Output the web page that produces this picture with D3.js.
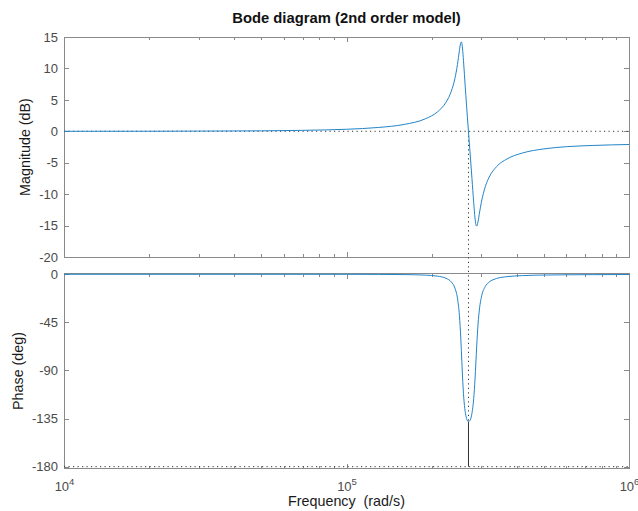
<!DOCTYPE html>
<html>
<head>
<meta charset="utf-8">
<script src="https://cdn.jsdelivr.net/npm/d3@7"></script>
<style>
  body { margin: 0; background: #fff; }
  svg { display: block; }
</style>
</head>
<body>
<svg id="chart" width="638" height="511"></svg>
<script>
// Frequency response samples (rad/s) of the 2nd order model
const freq = [1e4, 2e4, 3e4, 5e4, 7e4, 1e5, 1.3e5, 1.6e5, 1.9e5, 2.1e5, 2.25e5, 2.35e5, 2.42e5, 2.47e5,
  2.51e5, 2.54e5, 2.55e5, 2.56e5, 2.58e5, 2.6e5, 2.63e5, 2.66e5, 2.7e5, 2.74e5, 2.78e5, 2.82e5, 2.85e5,
  2.87e5, 2.89e5, 2.92e5, 2.96e5, 3.0e5, 3.1e5, 3.2e5, 3.4e5, 3.7e5, 4.2e5, 5e5, 6e5, 7.5e5, 1e6];

// Magnitude (dB)
const magDb = [0.00, 0.01, 0.03, 0.07, 0.15, 0.32, 0.61, 1.09, 1.98, 3.10, 4.61, 6.38, 8.41, 10.59,
  12.83, 14.14, 14.21, 13.99, 12.70, 10.69, 7.35, 4.15, 0.18, -3.64, -7.48, -11.33, -13.79,
  -14.81, -15.09, -14.43, -12.84, -11.36, -8.80, -7.29, -5.61, -4.40, -3.45, -2.80, -2.45, -2.25, -2.10];

// Phase (deg)
const phaseDeg = [0.0, 0.0, 0.0, 0.0, 0.0, -0.02, -0.09, -0.26, -0.76, -1.74, -3.75, -7.20, -12.95, -22.26,
  -38.53, -61.41, -71.24, -81.51, -100.56, -115.01, -128.16, -134.80, -137.90, -136.43, -130.10, -116.22, -98.32,
  -83.02, -67.25, -47.54, -30.99, -21.75, -11.38, -7.27, -3.93, -2.19, -1.21, -0.69, -0.46, -0.31, -0.20];

// Gain crossover (0 dB) and the phase there
const crossFreq = 2.703e5;
const crossPhase = -137.9;

// Axis ticks
const freqMajorTicks = [1e4, 1e5, 1e6];
const freqMinorTicks = [2e4, 3e4, 4e4, 5e4, 6e4, 7e4, 8e4, 9e4, 2e5, 3e5, 4e5, 5e5, 6e5, 7e5, 8e5, 9e5];
const magTicks = [-20, -15, -10, -5, 0, 5, 10, 15];
const phaseTicks = [-180, -135, -90, -45, 0];

const FONT = "'Liberation Sans', Arial, Helvetica, sans-serif";
const BOX = "#8a8a8a";
const TICKTXT = "#4a4a4a";
const LINE = "#2284c9";

const svg = d3.select("#chart");

const left = 64, right = 629;
const magTop = 37, magBottom = 257;
const phTop = 273.5, phBottom = 468.5;

const x = d3.scaleLog().domain([1e4, 1e6]).range([left, right]);
const yMag = d3.scaleLinear().domain([-20, 15]).range([magBottom, magTop]);
const yPh = d3.scaleLinear().domain([-181.7, 0.75]).range([phBottom, phTop]);

const pts = freq.map((f, i) => ({ f, m: magDb[i], p: phaseDeg[i] }));

function styleAxis(g) {
  g.select(".domain").remove();
  g.selectAll(".tick line").attr("stroke", BOX);
  g.attr("font-family", FONT).attr("font-size", 13);
  g.selectAll(".tick text").attr("fill", TICKTXT);
}

function drawPanel(yScale, top, bottom, yTicks, id) {
  const g = svg.append("g").attr("shape-rendering", "crispEdges");

  // x ticks on bottom and top edges, pointing inwards
  [[d3.axisBottom, bottom], [d3.axisTop, top]].forEach(([mk, ypos]) => {
    g.append("g").attr("transform", `translate(0,${ypos})`)
      .call(mk(x).tickValues(freqMinorTicks).tickSize(-3).tickFormat(""))
      .call(styleAxis);
    g.append("g").attr("class", ypos === bottom ? `xmajor-${id}` : null)
      .attr("transform", `translate(0,${ypos})`)
      .call(mk(x).tickValues(freqMajorTicks).tickSize(-5).tickFormat(""))
      .call(styleAxis);
  });

  // y ticks on left (labelled) and right edges
  g.append("g").attr("transform", `translate(${left},0)`)
    .call(d3.axisLeft(yScale).tickValues(yTicks).tickSize(-5).tickPadding(6).tickFormat(d => String(d)))
    .call(styleAxis);
  g.append("g").attr("transform", `translate(${right},0)`)
    .call(d3.axisRight(yScale).tickValues(yTicks).tickSize(-5).tickFormat(""))
    .call(styleAxis);

  // axes box
  g.append("rect")
    .attr("x", left).attr("y", top)
    .attr("width", right - left).attr("height", bottom - top)
    .attr("fill", "none").attr("stroke", BOX).attr("stroke-width", 1);

  svg.append("clipPath").attr("id", `clip-${id}`)
    .append("rect").attr("x", left).attr("y", top - 1)
    .attr("width", right - left).attr("height", bottom - top + 2);
}

drawPanel(yMag, magTop, magBottom, magTicks, "mag");
drawPanel(yPh, phTop, phBottom, phaseTicks, "ph");

// decade labels 10^n under the phase panel
svg.select(".xmajor-ph").selectAll(".tick")
  .append("text")
  .attr("y", 490.5 - phBottom)
  .attr("text-anchor", "middle")
  .attr("fill", TICKTXT)
  .attr("font-family", FONT)
  .each(function (d) {
    const t = d3.select(this);
    t.append("tspan").attr("font-size", 13).text("10");
    t.append("tspan").attr("font-size", 9.5).attr("dy", -6).text(Math.round(Math.log10(d)));
  });

// margin guides
const dotted = "1.2 3.3";
svg.append("line")
  .attr("x1", left).attr("x2", right)
  .attr("y1", yMag(0)).attr("y2", yMag(0))
  .attr("stroke", "#333").attr("stroke-dasharray", dotted);
svg.append("line")
  .attr("x1", left).attr("x2", right)
  .attr("y1", yPh(-180)).attr("y2", yPh(-180))
  .attr("stroke", "#333").attr("stroke-dasharray", dotted);
svg.append("line")
  .attr("x1", x(crossFreq)).attr("x2", x(crossFreq))
  .attr("y1", yMag(0)).attr("y2", yPh(crossPhase))
  .attr("stroke", "#333").attr("stroke-dasharray", dotted);
svg.append("line")
  .attr("x1", x(crossFreq)).attr("x2", x(crossFreq))
  .attr("y1", yPh(crossPhase)).attr("y2", yPh(-180))
  .attr("stroke", "#333").attr("stroke-width", 1);

// response curves
svg.append("path").datum(pts)
  .attr("clip-path", "url(#clip-mag)")
  .attr("fill", "none").attr("stroke", LINE).attr("stroke-width", 1)
  .attr("d", d3.line().x(d => x(d.f)).y(d => yMag(d.m)).curve(d3.curveMonotoneX));

svg.append("path").datum(pts)
  .attr("clip-path", "url(#clip-ph)")
  .attr("fill", "none").attr("stroke", LINE).attr("stroke-width", 1)
  .attr("d", d3.line().x(d => x(d.f)).y(d => yPh(d.p)).curve(d3.curveMonotoneX));

// titles and axis labels
svg.append("text")
  .attr("x", (left + right) / 2).attr("y", 22.5)
  .attr("text-anchor", "middle")
  .attr("font-family", FONT).attr("font-size", 14.8).attr("font-weight", "bold")
  .attr("fill", "#111")
  .text("Bode diagram (2nd order model)");

svg.append("text")
  .attr("transform", `translate(29.5,${(magTop + magBottom) / 2}) rotate(-90)`)
  .attr("text-anchor", "middle")
  .attr("font-family", FONT).attr("font-size", 14.3)
  .attr("fill", "#1a1a1a")
  .text("Magnitude (dB)");

svg.append("text")
  .attr("transform", `translate(23.3,${(phTop + phBottom) / 2}) rotate(-90)`)
  .attr("text-anchor", "middle")
  .attr("font-family", FONT).attr("font-size", 14.3)
  .attr("fill", "#1a1a1a")
  .text("Phase (deg)");

svg.append("text")
  .attr("x", (left + right) / 2).attr("y", 506)
  .attr("text-anchor", "middle")
  .attr("font-family", FONT).attr("font-size", 14.3)
  .attr("fill", "#1a1a1a")
  .attr("xml:space", "preserve")
  .style("white-space", "pre")
  .text("Frequency  (rad/s)");
</script>
</body>
</html>
